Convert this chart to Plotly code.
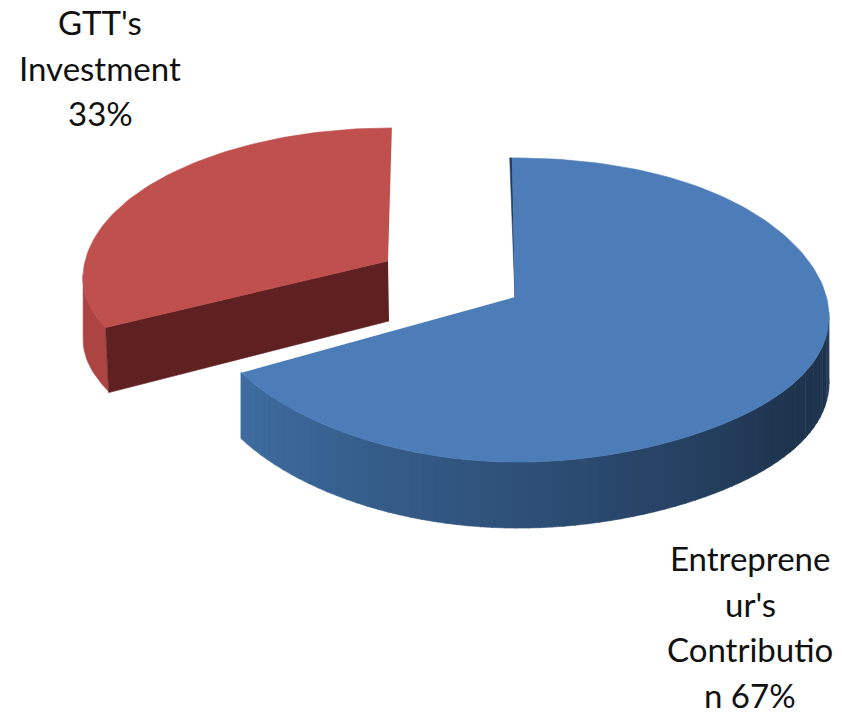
import numpy as np
import plotly.graph_objects as go

categories = ["Entrepreneur's Contribution", "GTT's Investment"]
values = [67, 33]
label_lines = [["Entreprene", "ur's", "Contributio", "n 67%"], ["GTT's", "Investment", "33%"]]

W, H = 842, 715
B, K = 151, 0.0855
DEPTH = 66
APEX = {0: (515, 297), 1: (388, 261)}
WIDTH = {0: 314, 1: 305}
LEAN = {0: -0.02, 1: 0.028}
LABEL_POS = {0: (750, 558, 45.5), 1: (100, 22, 45.5)}


def rim(theta, slice_id):
    ax, ay = APEX[slice_id]
    c, s = np.cos(theta), np.sin(theta)
    up = B * c / (1 + K * c)
    if slice_id == 0:
        sag = 18 * np.clip(s, 0, 1) ** 3
    else:
        sag = (6 + 10 * s ** 2) * np.clip(1 + 1.6 * np.minimum(c, 0), 0, 1)
    return ax + WIDTH[slice_id] * s + LEAN[slice_id] * up, ay - up + sag


def mix(c1, c2, t):
    t = min(max(t, 0), 1)
    return "rgb(%d,%d,%d)" % tuple(int(round(a + (b - a) * t)) for a, b in zip(c1, c2))


def poly(fig, x, y, color):
    fig.add_trace(go.Scatter(x=list(x), y=list(y), mode="lines", fill="toself", fillcolor=color,
                             line=dict(color=color, width=0.6), hoverinfo="skip", showlegend=False))


fig = go.Figure()
total = sum(values)
split = 2 * np.pi * values[0] / total

# Red slice
ax, ay = APEX[1]
start = split + 0.10
th = np.linspace(start, 2 * np.pi, 90)
tx, ty = rim(th, 1)
wall = th[th < 1.5 * np.pi + 0.02]
wx, wy = rim(wall, 1)
poly(fig, np.r_[wx, wx[::-1] + 3 * (1 - (wall[::-1] - wall[0]) / (wall[-1] - wall[0]))],
     np.r_[wy, wy[::-1] + DEPTH - 2], "rgb(172,68,65)")
lx, ly = rim(np.array([start]), 1)
poly(fig, [ax, lx[0], lx[0] + 3, ax + 1], [ay, ly[0], ly[0] + DEPTH - 1, ay + DEPTH - 6], "rgb(94,32,32)")
poly(fig, np.r_[ax, tx], np.r_[ay, ty], "rgb(192,80,77)")

# Blue slice
ax, ay = APEX[0]
seg = np.linspace(np.pi / 2 - 0.02, split, 71)
dark, mid, light = (30, 52, 78), (46, 80, 120), (62, 108, 160)
for i in range(len(seg) - 1):
    s = np.linspace(seg[i], seg[i + 1] + 0.003, 3)
    x, y = rim(s, 0)
    t = i / (len(seg) - 2)
    col = mix(dark, mid, (t - 0.2) / 0.4) if t < 0.6 else mix(mid, light, (t - 0.6) / 0.4)
    poly(fig, np.r_[x, x[::-1]], np.r_[y, y[::-1] + DEPTH], col)
th = np.linspace(0, split, 160)
tx, ty = rim(th, 0)
poly(fig, [ax, tx[0] - 2.5, tx[0], ax], [ay, ty[0], ty[0], ay], "rgb(35,60,95)")
poly(fig, np.r_[ax, tx], np.r_[ay, ty], "rgb(76,125,185)")

annotations = []
for i, lines in enumerate(label_lines):
    x0, y0, step = LABEL_POS[i]
    for j, line in enumerate(lines):
        annotations.append(dict(x=x0, y=y0 + j * step, text=line, xref="x", yref="y", showarrow=False,
                                xanchor="center", yanchor="middle",
                                font=dict(family="Lato", size=33, color="#111111")))

fig.update_layout(width=W, height=H, margin=dict(l=0, r=0, t=0, b=0), autosize=False,
                  paper_bgcolor="white", plot_bgcolor="white", showlegend=False,
                  annotations=annotations,
                  xaxis=dict(range=[0, W], visible=False, fixedrange=True),
                  yaxis=dict(range=[H, 0], visible=False, fixedrange=True))
fig.write_html("out.html", config=dict(displayModeBar=False),
               post_script="document.body.style.margin='0';document.body.style.overflow='hidden';")
